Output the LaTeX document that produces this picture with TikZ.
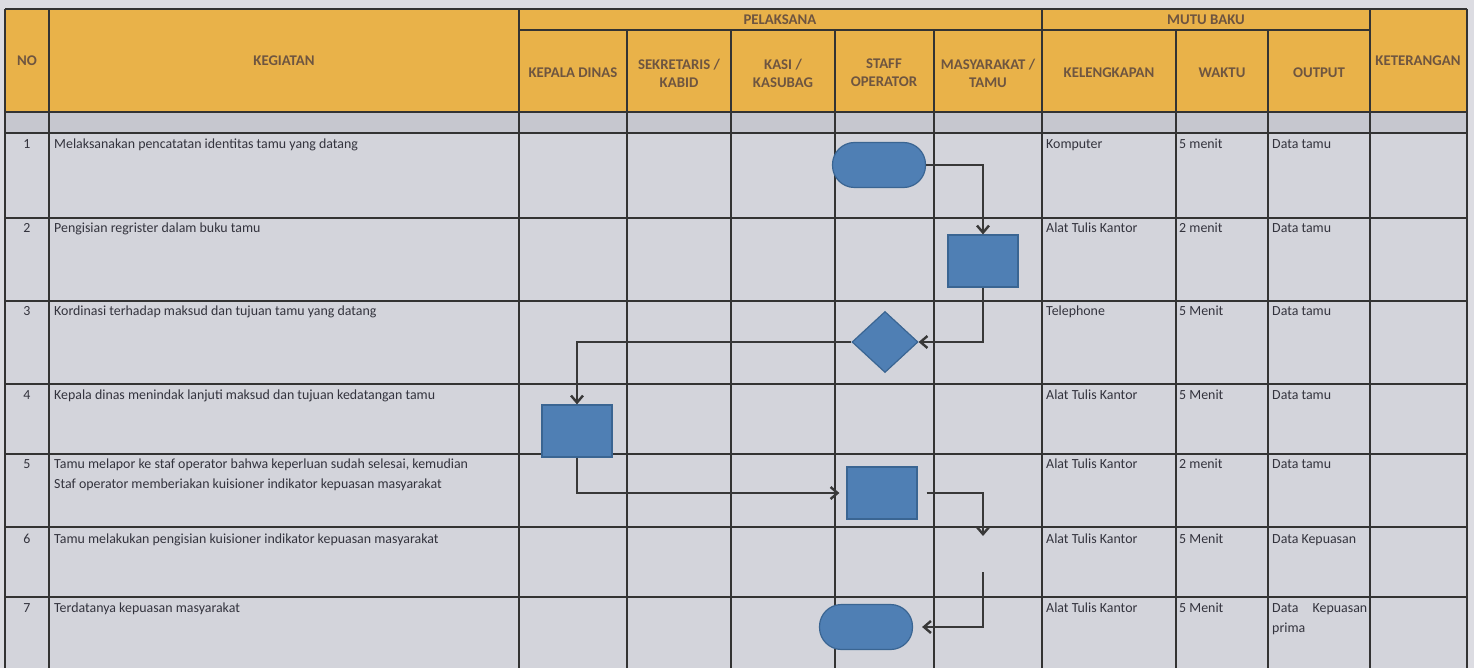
\documentclass[tikz,border=0pt]{standalone}
\usepackage{fontspec}
\setmainfont{Carlito}
\usepackage{tikz}
\usetikzlibrary{positioning, arrows.meta, shapes.geometric}

\definecolor{pagebg}{HTML}{DCDCE2}
\definecolor{cellbg}{HTML}{D3D4DB}
\definecolor{bandbg}{HTML}{C6C7CF}
\definecolor{headbg}{HTML}{E9B249}
\definecolor{headtxt}{HTML}{6E5540}
\definecolor{bodytxt}{HTML}{33333D}
\definecolor{shapefill}{HTML}{4F7FB4}
\definecolor{shapeline}{HTML}{3A6592}

\begin{document}
\begin{tikzpicture}[
    x=1pt, y=-1pt,
    grid/.style={draw=black!80, line width=1.3pt},
    head/.style={font=\bfseries\fontsize{14.8}{18}\selectfont, text=headtxt, align=center, inner sep=0pt},
    cell/.style={font=\fontsize{13.9}{20}\selectfont, text=bodytxt, anchor=north west, inner sep=0pt, align=left},
    num/.style={font=\fontsize{13.9}{16}\selectfont, text=bodytxt, anchor=north, inner sep=0pt},
    term/.style={rectangle, rounded corners=22pt, fill=shapefill, draw=shapeline, line width=1.2pt,
        minimum width=93pt, minimum height=45pt},
    proc/.style={rectangle, fill=shapefill, draw=shapeline, line width=1.2pt,
        minimum width=70pt, minimum height=52pt},
    dec/.style={diamond, fill=shapefill, draw=shapeline, line width=1.2pt,
        minimum width=66pt, minimum height=61pt, inner sep=0pt},
    arrow/.style={-{Straight Barb[length=7pt, width=12pt, line width=2.4pt]}, line width=2.4pt, draw=black!78}
]
\useasboundingbox (0,0) rectangle (1474,668);
\fill[pagebg] (0,0) rectangle (1474,668);
\fill[cellbg] (5,133) rectangle (1467,668);
\fill[bandbg] (5,112) rectangle (1467,133);
\fill[headbg] (5,9) rectangle (1467,112);

% grid
\draw[grid] (5,9) -- (1467,9);
\draw[grid] (519,30) -- (1370,30);
\draw[grid] (5,112) -- (1467,112);
\draw[grid] (5,133) -- (1467,133);
\draw[grid] (5,218) -- (1467,218);
\draw[grid] (5,301) -- (1467,301);
\draw[grid] (5,384) -- (1467,384);
\draw[grid] (5,454) -- (1467,454);
\draw[grid] (5,527) -- (1467,527);
\draw[grid] (5,597) -- (1467,597);
\draw[grid] (5,9) -- (5,668);
\draw[grid] (49,9) -- (49,668);
\draw[grid] (519,9) -- (519,668);
\draw[grid] (627,30) -- (627,668);
\draw[grid] (731,30) -- (731,668);
\draw[grid] (835,30) -- (835,668);
\draw[grid] (934,30) -- (934,668);
\draw[grid] (1042,9) -- (1042,668);
\draw[grid] (1176,30) -- (1176,668);
\draw[grid] (1268,30) -- (1268,668);
\draw[grid] (1370,9) -- (1370,668);
\draw[grid] (1467,9) -- (1467,668);

% header
\node[head] (hno) at (27,61) {NO};
\node[head] (hkeg) at (284,61) {KEGIATAN};
\node[head] (hpel) at (780,20) {PELAKSANA};
\node[head] (hkadis) at (573,73) {KEPALA DINAS};
\node[head] (hsek) at (679,73) {SEKRETARIS /\\KABID};
\node[head] (hkasi) at (783,73) {KASI /\\KASUBAG};
\node[head] (hstaff) at (884,73) {STAFF\\OPERATOR};
\node[head] (hmas) at (988,73) {MASYARAKAT /\\TAMU};
\node[head] (hmutu) at (1206,20) {MUTU BAKU};
\node[head] (hlengkap) at (1109,73) {KELENGKAPAN};
\node[head] (hwaktu) at (1222,73) {WAKTU};
\node[head] (houtput) at (1319,73) {OUTPUT};
\node[head] (hket) at (1418,61) {KETERANGAN};

% rows
\node[num] (no1) at (27,139) {1};
\node[num] (no2) at (27,223) {2};
\node[num] (no3) at (27,306) {3};
\node[num] (no4) at (27,390) {4};
\node[num] (no5) at (27,459) {5};
\node[num] (no6) at (27,534) {6};
\node[num] (no7) at (27,603) {7};

\node[cell] (keg1) at (54,139) {Melaksanakan pencatatan identitas tamu yang datang};
\node[cell] (keg2) at (54,223) {Pengisian regrister dalam buku tamu};
\node[cell] (keg3) at (54,306) {Kordinasi terhadap maksud dan tujuan tamu yang datang};
\node[cell] (keg4) at (54,390) {Kepala dinas menindak lanjuti maksud dan tujuan kedatangan tamu};
\node[cell] (keg5) at (54,459) {Tamu melapor ke staf operator bahwa keperluan sudah selesai, kemudian\\Staf operator memberiakan kuisioner indikator kepuasan masyarakat};
\node[cell] (keg6) at (54,534) {Tamu melakukan pengisian kuisioner indikator kepuasan masyarakat};
\node[cell] (keg7) at (54,603) {Terdatanya kepuasan masyarakat};

\node[cell] (lk1) at (1046,139) {Komputer};
\node[cell] (lk2) at (1046,223) {Alat Tulis Kantor};
\node[cell] (lk3) at (1046,306) {Telephone};
\node[cell] (lk4) at (1046,390) {Alat Tulis Kantor};
\node[cell] (lk5) at (1046,459) {Alat Tulis Kantor};
\node[cell] (lk6) at (1046,534) {Alat Tulis Kantor};
\node[cell] (lk7) at (1046,603) {Alat Tulis Kantor};

\node[cell] (wk1) at (1179,139) {5 menit};
\node[cell] (wk2) at (1179,223) {2 menit};
\node[cell] (wk3) at (1179,306) {5 Menit};
\node[cell] (wk4) at (1179,390) {5 Menit};
\node[cell] (wk5) at (1179,459) {2 menit};
\node[cell] (wk6) at (1179,534) {5 Menit};
\node[cell] (wk7) at (1179,603) {5 Menit};

\node[cell] (out1) at (1272,139) {Data tamu};
\node[cell] (out2) at (1272,223) {Data tamu};
\node[cell] (out3) at (1272,306) {Data tamu};
\node[cell] (out4) at (1272,390) {Data tamu};
\node[cell] (out5) at (1272,459) {Data tamu};
\node[cell] (out6) at (1272,534) {Data Kepuasan};
\node[cell, text width=95pt] (out7) at (1272,603) {Data\hfill Kepuasan\\prima};

% flow
\node[term] (mulai) at (879,165) {};
\node[proc] (regis) at (983,261) {};
\node[dec] (kordinasi) at (885,342) {};
\node[proc] (kadis) at (577,431) {};
\node[proc] (lapor) at (882,493) {};
\node[term] (selesai) at (866,627) {};
\coordinate (isi) at (983,536);
\coordinate (isiawal) at (983,572);

\draw[arrow] (mulai.east) -| (regis.north);
\draw[arrow] (regis.south) |- (kordinasi.east);
\draw[arrow] (kordinasi.west) -| (kadis.north);
\draw[arrow, shorten >=7pt] (kadis.south) |- (lapor.west);
\draw[arrow, shorten <=9pt] (lapor.east) -| (isi);
\draw[arrow, shorten >=9pt] (isiawal) |- (selesai.east);

\end{tikzpicture}
\end{document}
